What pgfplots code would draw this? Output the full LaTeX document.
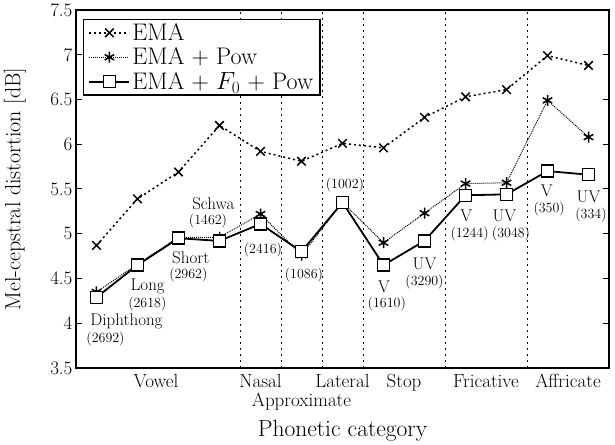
\documentclass[border=0pt]{standalone}
\usepackage{pgfplots}
\pgfplotsset{compat=1.18}
\newcommand{\fA}{\fontsize{17}{18}\selectfont}
\newcommand{\fB}{\fontsize{14}{15}\selectfont}
\begin{document}
\begin{tikzpicture}
\begin{axis}[
 name=ax, at={(0,0)}, anchor=south west,
 scale only axis, width=533pt, height=358pt,
 xmin=0.5, xmax=13.5, ymin=3.5, ymax=7.5,
 xtick=\empty,
 ytick={3.5,4,4.5,5,5.5,6,6.5,7,7.5},
 yticklabels={3.5,4,4.5,5,5.5,6,6.5,7,7.5},
 yticklabel style={font=\fontsize{19}{19}\selectfont},
 tick align=inside, major tick length=6pt,
 ytick pos=both,
 axis line style={line width=1.6pt},
 every tick/.style={black, line width=1pt},
 clip=false,
 legend cell align=left,
 legend style={at={(0.013,0.975)}, anchor=north west, draw=black, line width=1.2pt,
   font=\fontsize{24}{26}\selectfont, inner xsep=5pt, inner ysep=3pt, row sep=4pt,
   nodes={inner ysep=1pt}},
 legend image code/.code={\draw[mark repeat=2, mark phase=2, #1] plot coordinates {(0pt,0pt) (20pt,0pt) (40pt,0pt)};},
]
\foreach \xx in {4.5,5.5,6.5,7.5,9.5,11.5}{
  \edef\tmp{\noexpand\draw[black, line width=0.8pt, dash pattern=on 2pt off 4pt] (axis cs:\xx,3.5) -- (axis cs:\xx,7.5);}\tmp
}
\addplot[black, line width=1.5pt, dash pattern=on 2pt off 3pt, mark=x, mark size=6pt,
  mark options={solid, line width=1.5pt}] coordinates {
 (1,4.87) (2,5.39) (3,5.69) (4,6.21) (5,5.92) (6,5.81) (7,6.01) (8,5.96) (9,6.30) (10,6.53) (11,6.61) (12,6.99) (13,6.88)};
\addlegendentry{EMA}
\addplot[black, line width=1pt, dash pattern=on 1pt off 1pt, mark=asterisk, mark size=5.5pt,
  mark options={solid, line width=1.5pt}] coordinates {
 (1,4.35) (2,4.66) (3,4.96) (4,4.96) (5,5.22) (6,4.76) (7,5.35) (8,4.90) (9,5.23) (10,5.56) (11,5.57) (12,6.49) (13,6.08)};
\addlegendentry{EMA + Pow}
\addplot[black, line width=1.8pt, mark=square*, mark size=6pt,
  mark options={solid, fill=white, line width=1.5pt}] coordinates {
 (1,4.29) (2,4.65) (3,4.95) (4,4.92) (5,5.11) (6,4.80) (7,5.35) (8,4.65) (9,4.92) (10,5.43) (11,5.44) (12,5.70) (13,5.66)};
\addlegendentry{EMA + $F_0$ + Pow}
% annotations
\node[font=\fA] at (axis cs:1.73,4.02) {Diphthong};
\node[font=\fB] at (axis cs:1.22,3.82) {(2692)};
\node[font=\fA] at (axis cs:2.25,4.41) {Long};
\node[font=\fB] at (axis cs:2.24,4.21) {(2618)};
\node[font=\fA] at (axis cs:3.30,4.73) {Short};
\node[font=\fB] at (axis cs:3.24,4.54) {(2962)};
\node[font=\fA] at (axis cs:3.85,5.34) {Schwa};
\node[font=\fB] at (axis cs:3.72,5.14) {(1462)};
\node[font=\fB] at (axis cs:5.06,4.82) {(2416)};
\node[font=\fB] at (axis cs:6.06,4.54) {(1086)};
\node[font=\fB] at (axis cs:7.06,5.54) {(1002)};
\node[font=\fA] at (axis cs:8.01,4.41) {V};
\node[font=\fB] at (axis cs:8.08,4.21) {(1610)};
\node[font=\fA] at (axis cs:9.0,4.66) {UV};
\node[font=\fB] at (axis cs:9.0,4.46) {(3290)};
\node[font=\fA] at (axis cs:10.02,5.20) {V};
\node[font=\fB] at (axis cs:10.10,5.00) {(1244)};
\node[font=\fA] at (axis cs:10.95,5.20) {UV};
\node[font=\fB] at (axis cs:11.11,5.00) {(3048)};
\node[font=\fA] at (axis cs:11.98,5.48) {V};
\node[font=\fB] at (axis cs:12.04,5.28) {(350)};
\node[font=\fA] at (axis cs:13.0,5.41) {UV};
\node[font=\fB] at (axis cs:13.06,5.21) {(334)};
% category labels
\foreach \xx/\lab in {2.45/Vowel,5/Nasal,7/Lateral,8.5/Stop,10.5/Fricative,12.5/Affricate}{
  \edef\tmp{\noexpand\node[anchor=base, font=\noexpand\fontsize{19}{19}\noexpand\selectfont, yshift=-19.5pt] at (axis cs:\xx,3.5) {\lab};}\tmp
}
\node[anchor=base, font=\fontsize{19}{19}\selectfont, yshift=-38pt] at (axis cs:6,3.5) {Approximate};
\end{axis}
\node[rotate=90, font=\fontsize{22}{22}\selectfont] at ([xshift=-61pt]ax.west) {Mel-cepstral distortion [dB]};
\node[anchor=base, font=\fontsize{23.5}{23.5}\selectfont] at ([yshift=-68pt]ax.south) {Phonetic category};
\pgfresetboundingbox
\path ([shift={(-76pt,-76pt)}]ax.south west) rectangle ([shift={(6pt,10pt)}]ax.north east);
\end{tikzpicture}
\end{document}
